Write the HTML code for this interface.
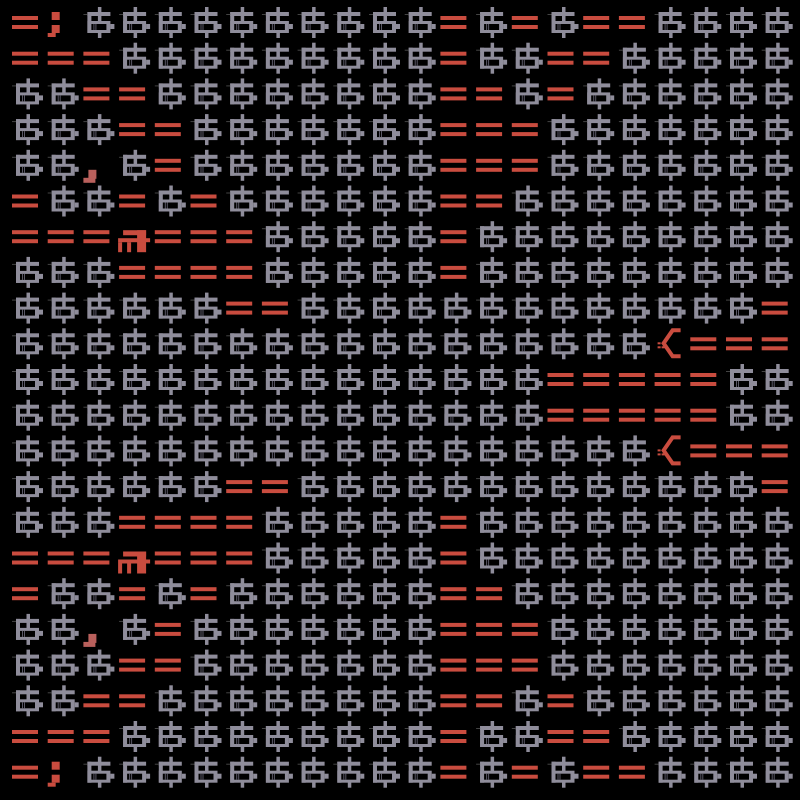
<!DOCTYPE html>
<html><head><meta charset="utf-8"><style>
html,body{margin:0;padding:0;background:#000;}
svg{display:block;}
</style></head><body>
<svg id="s" width="800" height="800" viewBox="0 0 800 800" xmlns="http://www.w3.org/2000/svg">
<rect width="800" height="800" fill="#000"/>
<g id="g"></g>
</svg>
<script>
var top11=[
"E;SSSSSSSSSSESESEESSSS",
"EEESSSSSSSSSESSEESSSSS",
"SSEESSSSSSSSEESESSSSSS",
"SSSEESSSSSSSEEESSSSSSS",
"SS,SESSSSSSSEEESSSSSSS",
"ESSESESSSSSSEESSSSSSSS",
"EEEREEESSSSSESSSSSSSSS",
"SSSEEEESSSSSESSSSSSSSS",
"SSSSSSEESSSSSSSSSSSSSE",
"SSSSSSSSSSSSSSSSSS<EEE",
"SSSSSSSSSSSSSSSEEEEESS"];
var rows=top11.concat(top11.slice().reverse());
var G='#8f8d9b',R='#c94c3f',P='#b9605c';
var out='';
function r(x,y,w,h,c){out+='<rect x="'+x.toFixed(1)+'" y="'+y.toFixed(1)+'" width="'+w+'" height="'+h+'" fill="'+c+'"/>';}
for(var i=0;i<22;i++){for(var j=0;j<22;j++){
 var ch=rows[i][j];var cx=25+35.7*j, cy=22+35.7*i;
 if(ch=='S'){
  r(cx+1.5,cy-15,3.5,31,G);
  r(cx-9,cy-10,23,4,G);
  r(cx-9,cy-10,4,21,G);
  r(cx-9,cy-1,23,12,G);
  r(cx+14,cy+2,4,5,G);
  r(cx-5,cy+2,15,6,'#000');
  r(cx-3,cy+2,1,6,'#5a5866');r(cx-1,cy+2,1,6,'#5a5866');
  r(cx-13,cy-8,4,1,'#444');
 } else if(ch=='E'){
  r(cx-13,cy-6,26,4,R);
  r(cx-13,cy+3,26,4,R);
 } else if(ch==';'){
  r(cx-9,cy-10,8,8,R);
  r(cx-9,cy+3,8,8,R);
  r(cx-13,cy+11,8,4,R);
 } else if(ch==','){
  r(cx-8,cy+5,8,9,P);
  r(cx-13,cy+13,12,5,P);
 } else if(ch=='R'){
  r(cx-9,cy-6,23,5,R);
  r(cx+5,cy-6,9,22,R);
  r(cx-14,cy+2,32,4,R);
  r(cx-14,cy+6,4,10,R);
  r(cx-5,cy+6,4,10,R);
 } else if(ch=='<'){
  out+='<polyline points="'+(cx+13)+','+(cy-13)+' '+(cx+5)+','+(cy-13)+' '+(cx-4)+','+cy+' '+(cx+5)+','+(cy+13)+' '+(cx+13)+','+(cy+13)+'" fill="none" stroke="'+R+'" stroke-width="4"/>';
  r(cx-10,cy-1,3,2,R);r(cx-10,cy+3,3,2,R);r(cx-6,cy+3,3,2,R);
 }
}}
document.getElementById('g').innerHTML=out;
</script>
</body></html>
